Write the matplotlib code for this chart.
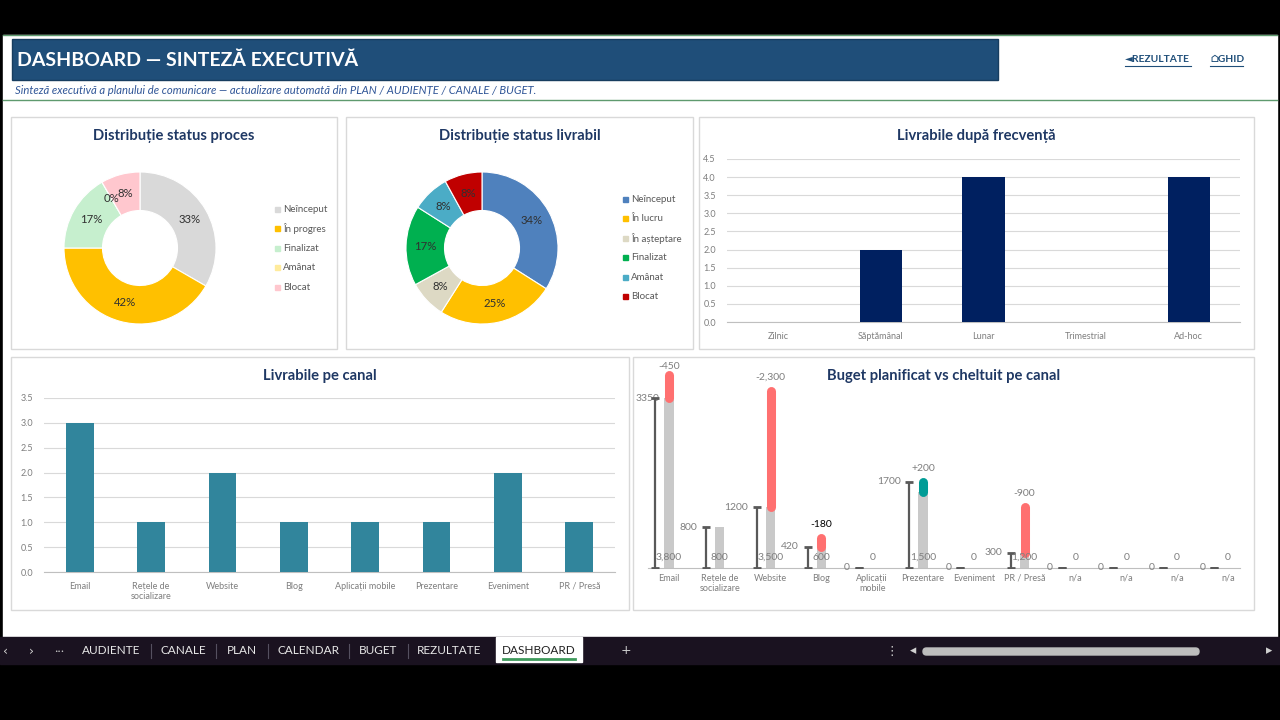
import numpy as np
import matplotlib.pyplot as plt
from matplotlib.patches import Rectangle, FancyBboxPatch

plt.rcParams['font.family'] = ['Lato', 'Noto Sans', 'DejaVu Sans']

W, H = 1280, 720

# --- date ---
proc_labels = ['Neînceput', 'În progres', 'Finalizat', 'Amânat', 'Blocat']
proc_values = [4, 5, 2, 0, 1]
proc_colors = ['#D9D9D9', '#FFC000', '#C6EFCE', '#FFEB9C', '#FFC7CE']

livr_labels = ['Neînceput', 'În lucru', 'În așteptare', 'Finalizat', 'Amânat', 'Blocat']
livr_values = [34, 25, 8, 17, 8, 8]
livr_colors = ['#4F81BD', '#FFC000', '#DDD9C4', '#00B050', '#4BACC6', '#C00000']

freq_labels = ['Zilnic', 'Săptămânal', 'Lunar', 'Trimestrial', 'Ad-hoc']
freq_values = [0, 2, 4, 0, 4]

canal_labels = ['Email', 'Rețele de\nsocializare', 'Website', 'Blog', 'Aplicații mobile',
                'Prezentare', 'Eveniment', 'PR / Presă']
canal_values = [3, 1, 2, 1, 1, 1, 2, 1]

buget_labels = ['Email', 'Rețele de\nsocializare', 'Website', 'Blog', 'Aplicații\nmobile',
                'Prezentare', 'Eveniment', 'PR / Presă', 'n/a', 'n/a', 'n/a', 'n/a']
buget_planificat = [3350, 800, 1200, 420, 0, 1700, 0, 300, 0, 0, 0, 0]
buget_cheltuit = [3800, 800, 3500, 600, 0, 1500, 0, 1200, 0, 0, 0, 0]

tabs = ['AUDIENTE', 'CANALE', 'PLAN', 'CALENDAR', 'BUGET', 'REZULTATE']
tab_x = [111, 183, 242, 308, 378, 449]

TITLE_C = '#1F3864'
GRAY_T = '#7F7F7F'


def px_axes(x0, y0, x1, y1):
    # pixel box (origine sus-stanga) -> axes
    return fig.add_axes([x0 / W, 1 - y1 / H, (x1 - x0) / W, (y1 - y0) / H])


fig = plt.figure(figsize=(12.8, 7.2), dpi=100, facecolor='black')

# fundal in pixeli
bg = fig.add_axes([0, 0, 1, 1])
bg.set_xlim(0, W)
bg.set_ylim(H, 0)
bg.axis('off')
bg.add_patch(Rectangle((3, 35), 1274, 602, color='white'))
bg.plot([3, 1277], [35, 35], color='#5E9A6E', lw=1)
bg.plot([3, 1277], [100, 100], color='#5E9A6E', lw=1)

# header
bg.add_patch(Rectangle((12, 39), 986, 41, facecolor='#1F4E79', edgecolor='#173D5F', lw=1))
bg.text(17, 60, 'DASHBOARD — SINTEZĂ EXECUTIVĂ', color='white', fontsize=14,
        fontweight='bold', va='center', ha='left')
bg.text(15, 90, 'Sinteză executivă a planului de comunicare — actualizare automată din '
        'PLAN / AUDIENȚE / CANALE / BUGET.', color='#2F5597', fontsize=8.1,
        style='italic', va='center', ha='left')
for tx, x0, x1 in [('◄REZULTATE', 1125, 1191), ('⌂GHID', 1210, 1243)]:
    bg.text(x0, 60, tx, color='#1F4E79', fontsize=7.4, fontweight='bold',
            va='center', ha='left', family=['Lato', 'DejaVu Sans'])
    bg.plot([x0, x1], [65.5, 65.5], color='#1F4E79', lw=0.8)

# panouri
panels = [(11, 117, 337, 349), (346, 117, 693, 349), (699, 117, 1254, 349),
          (11, 357, 629, 610), (633, 357, 1254, 610)]
for x0, y0, x1, y1 in panels:
    bg.add_patch(Rectangle((x0, y0), x1 - x0, y1 - y0, facecolor='white',
                           edgecolor='#D9D9D9', lw=1))

titles = ['Distribuție status proces', 'Distribuție status livrabil', 'Livrabile după frecvență',
          'Livrabile pe canal', 'Buget planificat vs cheltuit pe canal']
for (x0, y0, x1, y1), t in zip(panels, titles):
    bg.text((x0 + x1) / 2, y0 + 19, t, color=TITLE_C, fontsize=10.6, fontweight='bold',
            ha='center', va='center')


# --- donuts ---
def donut(cx, cy, values, colors, labels, leg_x, leg_y0):
    R, r, box = 76, 37.5, 80
    ax = px_axes(cx - box, cy - box, cx + box, cy + box)
    ax.pie(values, colors=colors, startangle=90, counterclock=False, radius=R / box,
           wedgeprops=dict(width=(R - r) / box, edgecolor='white', linewidth=0.8),
           autopct='%.0f%%', pctdistance=(R + r) / 2 / R,
           textprops=dict(color='#303030', fontsize=8.2))
    ax.set_xlim(-1, 1)
    ax.set_ylim(-1, 1)
    ax.set_aspect('equal')
    for k, (lab, col) in enumerate(zip(labels, colors)):
        y = leg_y0 + k * 19.4
        bg.add_patch(Rectangle((leg_x, y - 2.5), 5, 5, color=col))
        bg.text(leg_x + 8, y, lab, color='#595959', fontsize=7, va='center', ha='left')


donut(140, 248, proc_values, proc_colors, proc_labels, 275, 209.5)
donut(482, 248, livr_values, livr_colors, livr_labels, 623, 199.5)


# --- bare ---
def bar_chart(box, labels, values, color, ymax, width, xpad):
    ax = px_axes(*box)
    x = np.arange(len(labels))
    ax.bar(x, values, width=width, color=color, zorder=3)
    ax.set_xlim(-0.5, len(labels) - 0.5)
    ax.set_ylim(0, ymax)
    ticks = np.arange(0, ymax + 0.01, 0.5)
    ax.set_yticks(ticks)
    ax.set_yticklabels([f'{t:.1f}' for t in ticks])
    ax.set_xticks(x)
    ax.set_xticklabels(labels)
    ax.grid(axis='y', color='#D9D9D9', lw=0.8, zorder=0)
    for s in ['top', 'right', 'left']:
        ax.spines[s].set_visible(False)
    ax.spines['bottom'].set_color('#BFBFBF')
    ax.tick_params(length=0, labelsize=6.5, labelcolor=GRAY_T)
    ax.tick_params(axis='x', pad=xpad)
    ax.tick_params(axis='y', pad=8)
    ax.patch.set_alpha(0)
    return ax


bar_chart((727, 159, 1240, 322), freq_labels, freq_values, '#002060', 4.5, 0.41, 7.5)
bar_chart((44, 398, 615, 572), canal_labels, canal_values, '#31859C', 3.5, 0.39, 7)

# --- buget ---
pxu = 0.05066  # pixeli pe unitate
axb = px_axes(648, 360, 1240, 568)
plan = np.array(buget_planificat)
chelt = np.array(buget_cheltuit)
xb = np.arange(len(buget_labels))
xd = xb - 0.266
axb.set_xlim((648 - 669) / 50.8, (1240 - 669) / 50.8)
axb.set_ylim(0, 208 / pxu)
axb.bar(xb, np.minimum(plan, chelt), width=0.18, color='#C9C9C9', zorder=2)
for i in range(len(xb)):
    if plan[i] != chelt[i]:
        col = '#FF7070' if chelt[i] > plan[i] else '#009C96'
        axb.plot([xb[i], xb[i]], [min(plan[i], chelt[i]), max(plan[i], chelt[i])],
                 color=col, lw=6.5, solid_capstyle='round', zorder=3)
        dy = 6.5 if i == 0 else 9.7
        axb.annotate(f'{plan[i] - chelt[i]:+,}', (xb[i], max(plan[i], chelt[i])),
                     xytext=(0, dy), textcoords='offset points', ha='center', va='center',
                     fontsize=7.5, color='#000000' if i == 3 else GRAY_T, annotation_clip=False)
axb.errorbar(xd, plan, yerr=[plan, np.zeros_like(plan)], fmt='none', ecolor='#595959',
             elinewidth=1.6, capsize=3, capthick=2, zorder=4)
for i in range(len(xb)):
    off = 3 if i == 0 else -6.5
    axb.annotate(f'{plan[i]}', (xd[i], plan[i]), xytext=(off, 0), textcoords='offset points',
                 ha='right', va='center', fontsize=7.5, color=GRAY_T, annotation_clip=False)
    axb.annotate(f'{chelt[i]:,}', (xb[i], 0), xytext=(0, 7.9), textcoords='offset points',
                 ha='center', va='center', fontsize=7.5, color=GRAY_T, zorder=5,
                 annotation_clip=False)
axb.set_xticks(xb)
axb.set_xticklabels(buget_labels)
axb.set_yticks([])
for s in ['top', 'right', 'left']:
    axb.spines[s].set_visible(False)
axb.spines['bottom'].set_color('#BFBFBF')
axb.tick_params(length=0, labelsize=6.5, labelcolor=GRAY_T, pad=4)
axb.patch.set_alpha(0)

# --- bara de foi ---
bg.add_patch(Rectangle((0, 637), W, 27, color='#1A1220'))
bg.add_patch(Rectangle((496, 637), 86, 25, color='white'))
bg.plot([503, 575], [659, 659], color='#3E9A5C', lw=2)
bg.text(539, 650, 'DASHBOARD', color='#202020', fontsize=8.5, ha='center', va='center')
for t, x in zip(tabs, tab_x):
    bg.text(x, 651, t, color='#E8E8E8', fontsize=8.5, ha='center', va='center')
for x in [151, 216, 268, 349, 408]:
    bg.plot([x, x], [644, 658], color='#555060', lw=0.8)
for t, x in [('‹', 5), ('›', 31), ('•••', 59), ('+', 626), ('⋮', 892), ('◂', 913), ('▸', 1269)]:
    bg.text(x, 651, t, color='#D0D0D0', fontsize=9 if t not in ('•••',) else 4,
            ha='center', va='center', family=['DejaVu Sans'])
bg.add_patch(FancyBboxPatch((923, 648), 276, 7, boxstyle='round,pad=0,rounding_size=3.5',
                            color='#BDBDBD'))

fig.savefig('out.png', dpi=100, facecolor='black')
